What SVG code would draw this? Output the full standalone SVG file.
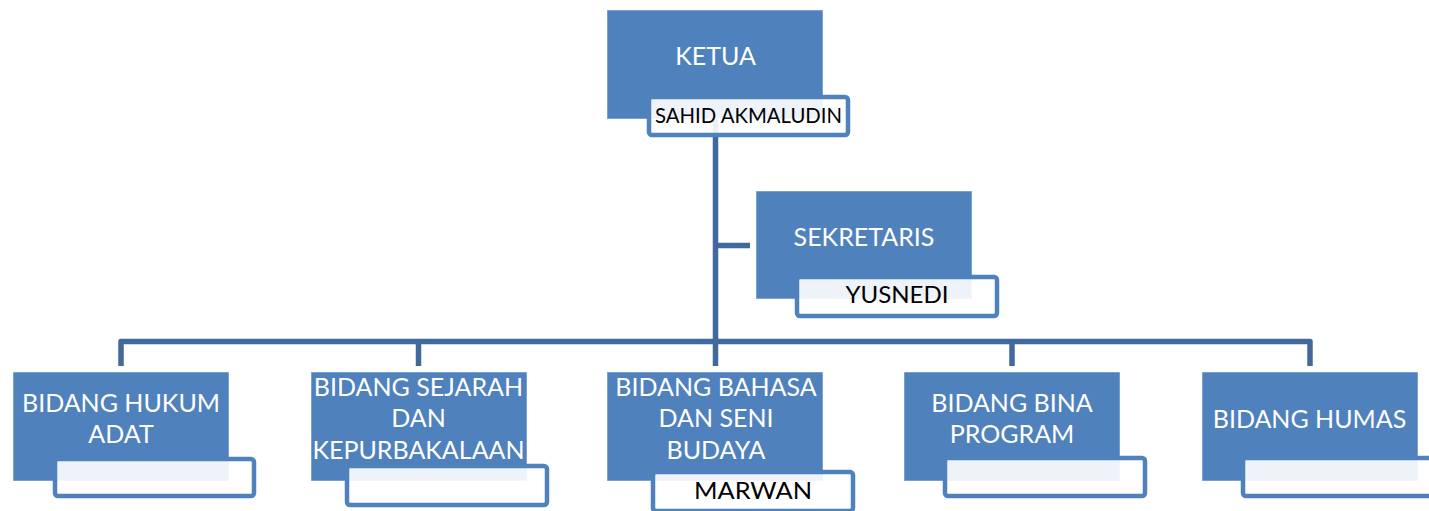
<svg xmlns="http://www.w3.org/2000/svg" width="1429" height="511" viewBox="0 0 1429 511">
<style>
.box{fill:#4f81bd;stroke:#ffffff;stroke-opacity:0.5;stroke-width:1}
.name{fill:#ffffff;fill-opacity:0.9;stroke:#4f81bd;stroke-width:4.5}
.t{font-family:Lato,"Open Sans","Liberation Sans",sans-serif;font-size:25px;fill:#ffffff;text-anchor:middle}
.n{font-family:Lato,"Open Sans","Liberation Sans",sans-serif;font-size:24px;fill:#000000;text-anchor:middle}
.c{fill:none;stroke:#41699b;stroke-width:5.5;stroke-linejoin:round}
</style>
<rect width="1429" height="511" fill="#ffffff"/>
<g id="connectors">
<path class="c" d="M715.5,119 V366"/>
<path class="c" d="M715.5,245.5 H750"/>
<path class="c" d="M121,366 V341.5 H1310 V366"/>
<path class="c" d="M418.5,341.5 V366"/>
<path class="c" d="M1012,341.5 V366"/>
</g>
<g id="ketua">
<rect class="box" x="607" y="10" width="216" height="109"/>
<text class="t" x="715.5" y="65">KETUA</text>
<rect class="name" x="649" y="97" width="199" height="38" rx="3"/>
<text class="n" x="748.5" y="123" style="font-size:21px" textLength="187" lengthAdjust="spacingAndGlyphs">SAHID AKMALUDIN</text>
</g>
<g id="sekretaris">
<rect class="box" x="756" y="191" width="216" height="108"/>
<text class="t" x="864" y="246">SEKRETARIS</text>
<rect class="name" x="797" y="277" width="200" height="39" rx="3"/>
<text class="n" x="897" y="303" textLength="103" lengthAdjust="spacingAndGlyphs">YUSNEDI</text>
</g>
<g id="hukum">
<rect class="box" x="13" y="372" width="216" height="109"/>
<text class="t" x="121" y="412">BIDANG HUKUM</text>
<text class="t" x="121" y="443">ADAT</text>
<rect class="name" x="55" y="459" width="199" height="37" rx="3"/>
</g>
<g id="sejarah">
<rect class="box" x="311" y="372" width="216" height="109"/>
<text class="t" x="418.5" y="396">BIDANG SEJARAH</text>
<text class="t" x="418.5" y="427">DAN</text>
<text class="t" x="418.5" y="459">KEPURBAKALAAN</text>
<rect class="name" x="347" y="466" width="200" height="39" rx="3"/>
</g>
<g id="bahasa">
<rect class="box" x="607" y="372" width="216" height="109"/>
<text class="t" x="716" y="396">BIDANG BAHASA</text>
<text class="t" x="716" y="427">DAN SENI</text>
<text class="t" x="716" y="459">BUDAYA</text>
<rect class="name" x="653" y="472" width="200" height="39" rx="3"/>
<text class="n" x="753" y="499" textLength="118" lengthAdjust="spacingAndGlyphs">MARWAN</text>
</g>
<g id="bina">
<rect class="box" x="904" y="372" width="216" height="109"/>
<text class="t" x="1012" y="412">BIDANG BINA</text>
<text class="t" x="1012" y="443">PROGRAM</text>
<rect class="name" x="945" y="458" width="200" height="38" rx="3"/>
</g>
<g id="humas">
<rect class="box" x="1202" y="372" width="216" height="109"/>
<text class="t" x="1309.5" y="428">BIDANG HUMAS</text>
<rect class="name" x="1243" y="458" width="200" height="38" rx="3"/>
</g>
</svg>
